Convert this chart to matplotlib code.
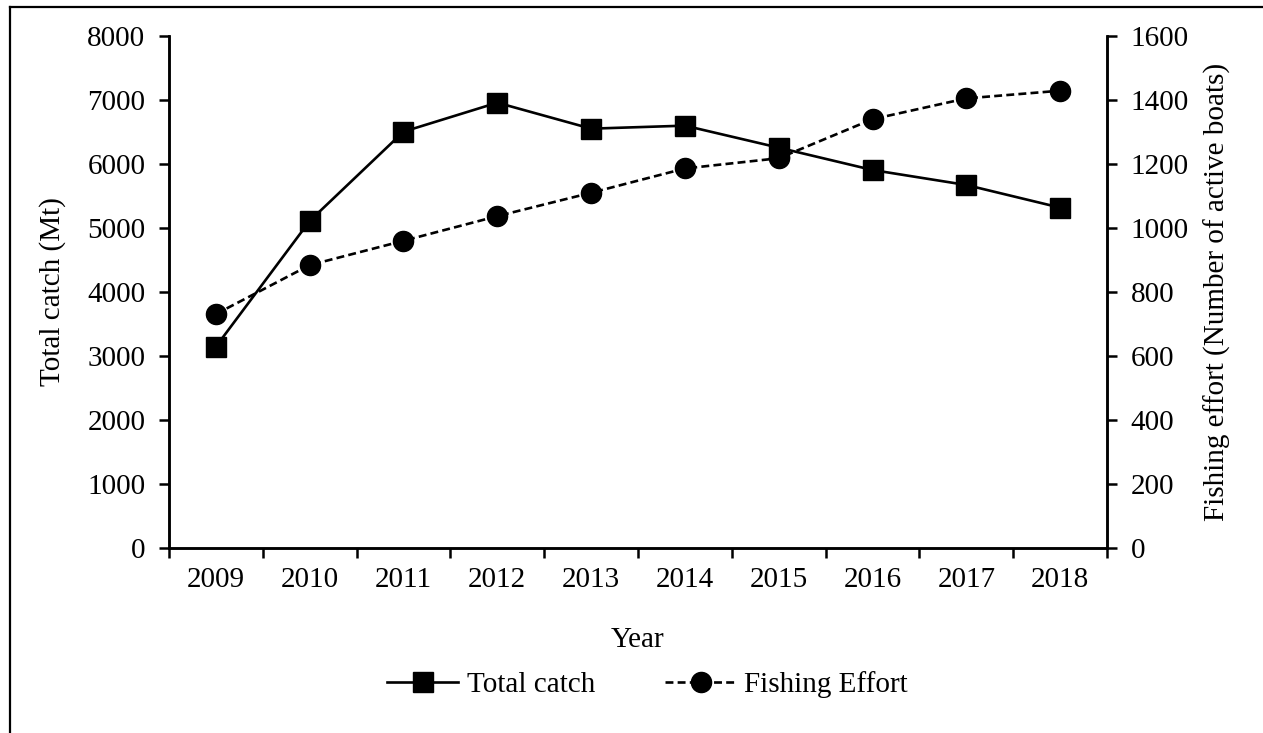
import matplotlib.pyplot as plt
from matplotlib.lines import Line2D

plt.rcParams['font.family'] = ['Liberation Serif', 'DejaVu Serif']
plt.rcParams['font.size'] = 21

# data
years = ['2009', '2010', '2011', '2012', '2013', '2014', '2015', '2016', '2017', '2018']
total_catch = [3146, 5110, 6505, 6958, 6552, 6599, 6255, 5906, 5672, 5318]
fishing_effort = [731, 884, 960, 1037, 1110, 1186, 1218, 1340, 1405, 1429]

fig = plt.figure(figsize=(12.63, 7.33), dpi=100)
ax = fig.add_axes([0.1338, 0.2524, 0.8765 - 0.1338, 0.9509 - 0.2524])
ax2 = ax.twinx()

x = list(range(len(years)))
ax.plot(x, total_catch, color='black', lw=1.9, marker='s', ms=14.5,
        label='Total catch', zorder=3)
ax2.plot(x, fishing_effort, color='black', lw=1.9, marker='o', ms=14.5,
         linestyle=(0, (3.0, 1.6)), label='Fishing Effort', zorder=3)

ax.set_xlim(-0.5, len(years) - 0.5)
ax.set_ylim(0, 8000)
ax2.set_ylim(0, 1600)
ax.set_yticks(range(0, 8001, 1000))
ax2.set_yticks(range(0, 1601, 200))

# category labels between tick marks (excel style)
ax.set_xticks([i - 0.5 for i in range(len(years) + 1)])
ax.set_xticklabels([])
ax.set_xticks(x, minor=True)
ax.set_xticklabels(years, minor=True)
ax.tick_params(axis='x', which='minor', length=0, pad=14)
ax.tick_params(axis='x', which='major', direction='out', length=7, width=1.8)
ax.tick_params(axis='y', direction='out', length=7, width=1.8, pad=10)
ax2.tick_params(axis='y', direction='out', length=7, width=1.8, pad=10)

for a in (ax, ax2):
    a.spines['top'].set_visible(False)
    for s in ('left', 'right', 'bottom'):
        a.spines[s].set_linewidth(1.8)

ax.set_ylabel('Total catch (Mt)', labelpad=15)
ax2.set_ylabel('Fishing effort (Number of active boats)', labelpad=11)
ax.set_xlabel('Year', labelpad=24)

h1, l1 = ax.get_legend_handles_labels()
h2, l2 = ax2.get_legend_handles_labels()
fig.legend(h1 + h2, l1 + l2, loc='center', bbox_to_anchor=(0.5127, 0.066),
           ncol=2, frameon=False, handlelength=2.45, handletextpad=0.28,
           columnspacing=2.4, markerscale=1.0)

# border lines on left and top of the picture
fig.add_artist(Line2D([10 / 1263, 10 / 1263], [0, 1 - 7 / 733],
                      transform=fig.transFigure, color='black', lw=1.6))
fig.add_artist(Line2D([10 / 1263, 1], [1 - 7 / 733, 1 - 7 / 733],
                      transform=fig.transFigure, color='black', lw=1.6))

fig.savefig('out.png', dpi=100)
